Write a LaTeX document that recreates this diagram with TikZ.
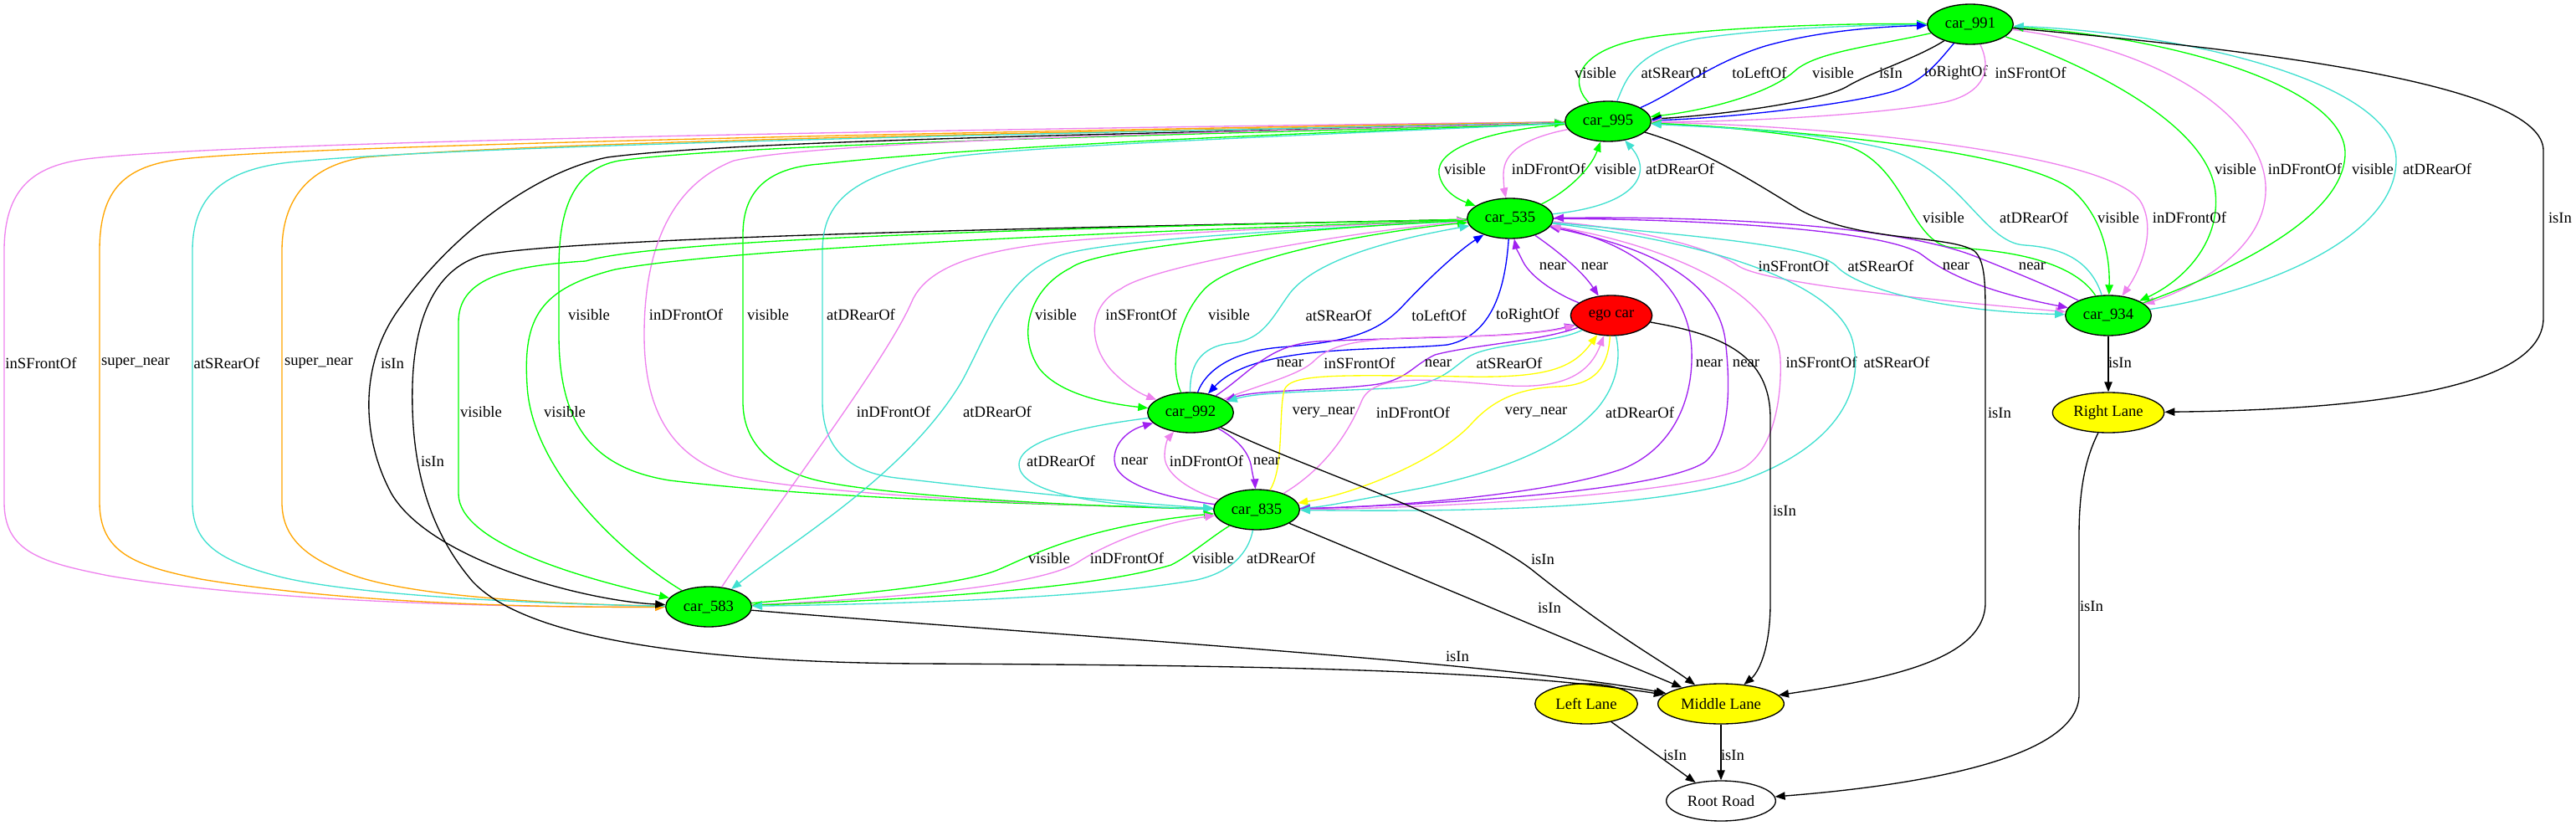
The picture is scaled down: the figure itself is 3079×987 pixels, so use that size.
\documentclass[tikz,border=0pt]{standalone}
\usepackage{fontspec}
\setmainfont{Liberation Serif}
\usepackage{tikz}
\usetikzlibrary{shapes.geometric,arrows.meta}
\definecolor{gvgreen}{HTML}{00FF00}
\definecolor{gvturq}{HTML}{40E0D0}
\definecolor{gvviolet}{HTML}{EE82EE}
\definecolor{gvpurple}{HTML}{A020F0}
\definecolor{gvorange}{HTML}{FFA500}
\definecolor{gvyellow}{HTML}{FFFF00}
\definecolor{gvblue}{HTML}{0000FF}
\definecolor{gvred}{HTML}{FF0000}
\tikzstyle{car}=[ellipse, draw=black, line width=1pt, fill=gvgreen, minimum width=77pt, minimum height=36pt, inner sep=0pt, font=\fontsize{14}{16}\selectfont]
\tikzstyle{egocar}=[car, fill=gvred, minimum width=73pt]
\tikzstyle{lane}=[car, fill=gvyellow]
\tikzstyle{road}=[car, fill=white, minimum width=98pt]
\tikzstyle{lbl}=[inner sep=0pt, text=black, font=\fontsize{14}{16}\selectfont]
\tikzstyle{link}=[draw, line width=1pt, -{Triangle[length=9pt,width=7pt]}]
\tikzstyle{visedge}=[link, draw=gvgreen]
\tikzstyle{frontedge}=[link, draw=gvviolet]
\tikzstyle{rearedge}=[link, draw=gvturq]
\tikzstyle{nearedge}=[link, draw=gvpurple]
\tikzstyle{snearedge}=[link, draw=gvorange]
\tikzstyle{vnearedge}=[link, draw=gvyellow]
\tikzstyle{leftedge}=[link, draw=gvblue]
\tikzstyle{inedge}=[link, draw=black]

\begin{document}
\begin{tikzpicture}[x=0.75pt, y=-0.75pt]
\useasboundingbox (0,0) rectangle (3079,987);

				\node[car] (c_991) at (2355,29) {car\_991};
				\node[car] (c_995) at (1922,145) {car\_995};
				\node[car] (c_535) at (1805,261) {car\_535};
				\node[egocar] (ego) at (1926,377) {ego car};
				\node[car] (c_934) at (2520,377) {car\_934};
				\node[lane, minimum width=100pt] (r_lane) at (2520,493) {Right Lane};
				\node[car] (c_992) at (1423,493) {car\_992};
				\node[car] (c_835) at (1502,609) {car\_835};
				\node[car] (c_583) at (847,725) {car\_583};
				\node[lane, minimum width=92pt] (l_lane) at (1896,841) {Left Lane};
				\node[lane, minimum width=113pt] (m_lane) at (2057,841) {Middle Lane};
				\node[road] (root) at (2057,957) {Root Road};

				% car_995 <-> car_991
				\draw[visedge] (c_995) .. controls (1876,100) and (1878,55) .. (1990,42) .. controls (2100,30) and (2230,28) .. (c_991) node[lbl] (e_1) at (1907,87) {visible};
				\draw[rearedge] (c_995) .. controls (1942,100) and (1950,62) .. (2030,46) .. controls (2120,33) and (2230,30) .. (c_991) node[lbl] (e_2) at (2001,87) {atSRearOf};
				\draw[leftedge] (c_995) .. controls (2000,112) and (2045,75) .. (2110,55) .. controls (2170,38) and (2240,32) .. (c_991) node[lbl] (e_3) at (2103,87) {toLeftOf};
				\draw[visedge] (c_991) .. controls (2240,55) and (2170,62) .. (2145,85) .. controls (2115,112) and (2040,132) .. (c_995) node[lbl] (e_4) at (2191,87) {visible};
				\draw[inedge] (c_991) .. controls (2290,70) and (2240,85) .. (2210,102) .. controls (2180,122) and (2050,138) .. (c_995) node[lbl] (e_5) at (2260,87) {isIn};
				\draw[leftedge] (c_991) .. controls (2318,72) and (2300,98) .. (2260,110) .. controls (2200,127) and (2050,142) .. (c_995) node[lbl] (e_6) at (2338,87) {toRightOf};
				\draw[frontedge] (c_991) .. controls (2380,80) and (2375,110) .. (2325,122) .. controls (2230,140) and (2050,146) .. (c_995) node[lbl] (e_7) at (2427,87) {inSFrontOf};

				% car_991 <-> car_934, right lane
				\draw[visedge] (c_991) .. controls (2500,80) and (2640,150) .. (2648,230) .. controls (2654,290) and (2610,335) .. (c_934) node[lbl] (e_8) at (2672,202) {visible};
				\draw[frontedge] (c_991) .. controls (2600,60) and (2712,150) .. (2708,230) .. controls (2705,300) and (2620,345) .. (c_934) node[lbl] (e_9) at (2755,202) {inDFrontOf};
				\draw[visedge] (c_934) .. controls (2650,330) and (2800,265) .. (2803,185) .. controls (2806,105) and (2600,45) .. (c_991) node[lbl] (e_10) at (2836,202) {visible};
				\draw[rearedge] (c_934) .. controls (2700,350) and (2866,285) .. (2864,190) .. controls (2862,100) and (2620,40) .. (c_991) node[lbl] (e_11) at (2913,202) {atDRearOf};
				\draw[inedge] (c_991) .. controls (2700,60) and (3040,100) .. (3040,180) -- (3040,380) .. controls (3040,470) and (2800,490) .. (r_lane) node[lbl] (e_12) at (3060,260) {isIn};

				% car_995 <-> car_535
				\draw[visedge] (c_995) .. controls (1780,155) and (1715,178) .. (1720,208) .. controls (1724,228) and (1742,238) .. (c_535) node[lbl] (e_13) at (1751,202) {visible};
				\draw[frontedge] (c_995) .. controls (1822,165) and (1797,182) .. (1797,208) .. controls (1797,222) and (1799,232) .. (c_535) node[lbl] (e_14) at (1851,202) {inDFrontOf};
				\draw[visedge] (c_535) .. controls (1868,232) and (1900,205) .. (c_995) node[lbl] (e_15) at (1931,202) {visible};
				\draw[rearedge] (c_535) .. controls (1960,245) and (1975,205) .. (c_995) node[lbl] (e_16) at (2008,202) {atDRearOf};

				% car_995 <-> car_934
				\draw[visedge] (c_995) .. controls (2150,155) and (2420,180) .. (2478,228) .. controls (2515,262) and (2522,310) .. (c_934) node[lbl] (e_17) at (2532,260) {visible};
				\draw[frontedge] (c_995) .. controls (2200,150) and (2520,185) .. (2558,240) .. controls (2578,272) and (2560,320) .. (c_934) node[lbl] (e_18) at (2617,260) {inDFrontOf};
				\draw[visedge] (c_934) .. controls (2482,318) and (2420,300) .. (2335,296) .. controls (2280,292) and (2280,192) .. (2200,172) .. controls (2130,157) and (2040,150) .. (c_995) node[lbl] (e_19) at (2323,260) {visible};
				\draw[rearedge] (c_934) .. controls (2500,315) and (2470,296) .. (2420,293) .. controls (2370,290) and (2345,205) .. (2255,178) .. controls (2160,155) and (2040,152) .. (c_995) node[lbl] (e_20) at (2431,260) {atDRearOf};

				% car_995 <-> car_583
				\draw[frontedge] (c_995) .. controls (1500,150) and (300,165) .. (103,190) .. controls (40,198) and (5,225) .. (5,300) -- (5,600) .. controls (5,660) and (50,672) .. (130,688) .. controls (330,722) and (650,726) .. (c_583) node[lbl] (e_21) at (49,434) {inSFrontOf};
				\draw[snearedge] (c_995) .. controls (1500,152) and (400,170) .. (218,190) .. controls (150,198) and (119,225) .. (119,300) -- (119,600) .. controls (119,660) and (160,676) .. (240,692) .. controls (420,722) and (650,726) .. (c_583) node[lbl] (e_22) at (162,434) {super\_near};
				\draw[snearedge] (c_583) .. controls (650,722) and (500,712) .. (430,690) .. controls (362,668) and (337,640) .. (337,600) -- (337,300) .. controls (337,228) and (380,196) .. (436,188) .. controls (700,165) and (1500,155) .. (c_995) node[lbl] (e_24) at (381,434) {super\_near};
				\draw[rearedge] (c_583) .. controls (650,722) and (420,712) .. (330,688) .. controls (255,668) and (230,645) .. (230,600) -- (230,300) .. controls (230,228) and (275,200) .. (356,193) .. controls (600,170) and (1500,155) .. (c_995) node[lbl] (e_23) at (271,434) {atSRearOf};
				\draw[inedge] (c_995) .. controls (1500,158) and (900,165) .. (726,188) .. controls (640,205) and (540,280) .. (480,365) .. controls (430,430) and (430,520) .. (468,590) .. controls (515,670) and (700,718) .. (c_583) node[lbl] (e_25) at (469,434) {isIn};
				\draw[inedge] (c_535) .. controls (1500,268) and (700,280) .. (577,305) .. controls (515,322) and (495,390) .. (493,460) .. controls (491,540) and (505,625) .. (565,695) .. controls (640,775) and (900,792) .. (1100,793) .. controls (1500,795) and (1800,800) .. (m_lane) node[lbl] (e_26) at (517,551) {isIn};

				% car_995 <-> car_835
				\draw[visedge] (c_995) .. controls (1500,160) and (900,170) .. (740,192) .. controls (685,202) and (668,250) .. (668,320) -- (668,400) .. controls (668,515) and (715,560) .. (800,574) .. controls (1000,598) and (1300,604) .. (c_835) node[lbl] (e_27) at (704,376) {visible};
				\draw[frontedge] (c_835) .. controls (1300,606) and (980,592) .. (877,569) .. controls (795,545) and (770,480) .. (770,400) .. controls (770,300) and (800,222) .. (877,192) .. controls (1000,165) and (1600,155) .. (c_995) node[lbl] (e_28) at (820,376) {inDFrontOf};
				\draw[visedge] (c_835) .. controls (1300,606) and (1040,592) .. (969,572) .. controls (910,555) and (888,520) .. (888,480) -- (888,280) .. controls (888,222) and (925,200) .. (980,196) .. controls (1200,172) and (1600,158) .. (c_995) node[lbl] (e_29) at (918,376) {visible};
				\draw[rearedge] (c_995) .. controls (1600,160) and (1200,175) .. (1122,190) .. controls (1020,210) and (983,240) .. (983,300) -- (983,480) .. controls (983,540) and (1020,565) .. (1071,571) .. controls (1250,592) and (1400,605) .. (c_835) node[lbl] (e_30) at (1029,376) {atDRearOf};

				% car_535 <-> car_583
				\draw[visedge] (c_535) .. controls (1400,270) and (800,282) .. (700,312) .. controls (600,318) and (548,335) .. (548,385) -- (548,590) .. controls (548,650) and (700,692) .. (c_583) node[lbl] (e_31) at (575,492) {visible};
				\draw[visedge] (c_583) .. controls (740,660) and (635,560) .. (630,460) .. controls (625,380) and (645,345) .. (735,322) .. controls (900,292) and (1500,272) .. (c_535) node[lbl] (e_32) at (675,492) {visible};
				\draw[frontedge] (c_583) .. controls (930,600) and (1060,430) .. (1090,360) .. controls (1110,315) and (1180,296) .. (1300,286) .. controls (1500,272) and (1700,266) .. (c_535) node[lbl] (e_33) at (1068,492) {inDFrontOf};
				\draw[rearedge] (c_535) .. controls (1600,272) and (1320,285) .. (1265,306) .. controls (1200,332) and (1180,400) .. (1150,455) .. controls (1085,565) and (950,645) .. (c_583) node[lbl] (e_34) at (1192,492) {atDRearOf};

				% car_535 <-> car_992
				\draw[visedge] (c_535) .. controls (1650,268) and (1320,290) .. (1280,320) .. controls (1230,345) and (1215,400) .. (1242,440) .. controls (1265,470) and (1320,482) .. (c_992) node[lbl] (e_35) at (1262,376) {visible};
				\draw[frontedge] (c_535) .. controls (1650,272) and (1380,315) .. (1340,345) .. controls (1300,365) and (1300,410) .. (1328,442) .. controls (1345,460) and (1362,470) .. (c_992) node[lbl] (e_36) at (1364,376) {inSFrontOf};
				\draw[visedge] (c_992) .. controls (1398,440) and (1405,382) .. (1440,345) .. controls (1480,305) and (1650,276) .. (c_535) node[lbl] (e_37) at (1469,376) {visible};
				\draw[rearedge] (c_992) .. controls (1422,440) and (1432,414) .. (1472,410) .. controls (1510,406) and (1520,380) .. (1542,350) .. controls (1580,302) and (1700,280) .. (c_535) node[lbl] (e_38) at (1600,377) {atSRearOf};
				\draw[leftedge] (c_992) .. controls (1440,445) and (1470,420) .. (1530,415) .. controls (1620,408) and (1650,395) .. (1680,362) .. controls (1718,322) and (1750,295) .. (c_535) node[lbl] (e_39) at (1720,377) {toLeftOf};
				\draw[leftedge] (c_535) .. controls (1800,330) and (1790,400) .. (1730,412) .. controls (1650,420) and (1500,410) .. (c_992) node[lbl] (e_40) at (1826,377) {toRightOf};

				% ego car <-> car_992
				\draw[nearedge] (c_992) .. controls (1495,445) and (1515,412) .. (1575,408) .. controls (1700,402) and (1820,404) .. (ego) node[lbl] (e_41) at (1542,434) {near};
				\draw[frontedge] (c_992) .. controls (1510,458) and (1555,448) .. (1572,430) .. controls (1598,405) and (1650,404) .. (1750,402) .. controls (1820,401) and (1860,395) .. (ego) node[lbl] (e_42) at (1625,434) {inSFrontOf};
				\draw[nearedge] (ego) .. controls (1840,408) and (1760,412) .. (1715,424) .. controls (1686,438) and (1682,455) .. (1640,460) .. controls (1580,467) and (1500,466) .. (c_992) node[lbl] (e_43) at (1719,434) {near};
				\draw[rearedge] (ego) .. controls (1860,410) and (1782,410) .. (1756,426) .. controls (1732,442) and (1722,461) .. (1660,464) .. controls (1580,468) and (1505,468) .. (c_992) node[lbl] (e_44) at (1804,434) {atSRearOf};

				% ego car <-> car_835
				\draw[vnearedge] (c_835) .. controls (1535,560) and (1528,492) .. (1535,466) .. controls (1542,446) and (1600,448) .. (1750,450) .. controls (1850,452) and (1880,440) .. (ego) node[lbl] (e_45) at (1582,493) {very\_near};
				\draw[frontedge] (c_835) .. controls (1580,562) and (1610,522) .. (1628,478) .. controls (1642,448) and (1700,452) .. (1790,460) .. controls (1860,466) and (1898,452) .. (ego) node[lbl] (e_46) at (1689,493) {inDFrontOf};
				\draw[vnearedge] (ego) .. controls (1922,438) and (1908,460) .. (1862,462) .. controls (1815,464) and (1785,478) .. (1760,505) .. controls (1720,550) and (1620,590) .. (c_835) node[lbl] (e_47) at (1836,493) {very\_near};
				\draw[rearedge] (ego) .. controls (1938,430) and (1932,460) .. (1910,487) .. controls (1870,532) and (1800,562) .. (1700,583) .. controls (1620,598) and (1580,606) .. (c_835) node[lbl] (e_48) at (1960,493) {atDRearOf};

				% car_992 <-> car_835
				\draw[rearedge] (c_992) .. controls (1330,505) and (1218,520) .. (1218,555) .. controls (1218,592) and (1330,606) .. (c_835) node[lbl] (e_49) at (1268,551) {atDRearOf};
				\draw[nearedge] (c_835) .. controls (1400,596) and (1333,580) .. (1332,550) .. controls (1331,530) and (1348,514) .. (c_992) node[lbl] (e_50) at (1356,551) {near};
				\draw[frontedge] (c_835) .. controls (1432,590) and (1392,570) .. (1392,545) .. controls (1392,532) and (1396,524) .. (c_992) node[lbl] (e_51) at (1442,551) {inDFrontOf};
				\draw[nearedge] (c_992) .. controls (1470,520) and (1493,535) .. (1496,560) .. controls (1498,572) and (1500,578) .. (c_835) node[lbl] (e_52) at (1514,551) {near};

				% car_835 <-> car_583
				\draw[visedge] (c_583) .. controls (1000,712) and (1150,700) .. (1195,680) .. controls (1232,664) and (1300,628) .. (c_835) node[lbl] (e_53) at (1254,667) {visible};
				\draw[frontedge] (c_583) .. controls (1050,716) and (1240,702) .. (1288,672) .. controls (1322,650) and (1380,626) .. (c_835) node[lbl] (e_54) at (1347,667) {inDFrontOf};
				\draw[visedge] (c_835) .. controls (1450,640) and (1422,664) .. (1400,675) .. controls (1300,706) and (1050,718) .. (c_583) node[lbl] (e_55) at (1450,667) {visible};
				\draw[rearedge] (c_835) .. controls (1494,652) and (1480,682) .. (1430,693) .. controls (1300,716) and (1050,722) .. (c_583) node[lbl] (e_56) at (1531,667) {atDRearOf};

				% car_535 <-> ego car
				\draw[nearedge] (ego) .. controls (1862,352) and (1830,332) .. (1820,312) .. controls (1815,302) and (1812,296) .. (c_535) node[lbl] (e_57) at (1856,318) {near};
				\draw[nearedge] (c_535) .. controls (1855,295) and (1890,322) .. (ego) node[lbl] (e_58) at (1906,318) {near};

				% car_535 <-> car_934
				\draw[frontedge] (c_535) .. controls (1950,272) and (2045,295) .. (2078,318) .. controls (2110,338) and (2300,358) .. (c_934) node[lbl] (e_59) at (2144,318) {inSFrontOf};
				\draw[rearedge] (c_535) .. controls (2000,280) and (2170,292) .. (2195,318) .. controls (2220,345) and (2320,372) .. (c_934) node[lbl] (e_60) at (2248,318) {atSRearOf};
				\draw[nearedge] (c_535) .. controls (2050,262) and (2260,276) .. (2298,305) .. controls (2330,330) and (2380,350) .. (c_934) node[lbl] (e_61) at (2338,318) {near};
				\draw[nearedge] (c_934) .. controls (2450,342) and (2400,322) .. (2360,306) .. controls (2280,275) and (2100,258) .. (c_535) node[lbl] (e_62) at (2429,318) {near};

				% car_535 <-> car_835
				\draw[nearedge] (c_535) .. controls (1950,288) and (2020,340) .. (2022,420) .. controls (2024,490) and (1990,540) .. (1940,560) .. controls (1850,592) and (1650,606) .. (c_835) node[lbl] (e_63) at (2043,434) {near};
				\draw[nearedge] (c_835) .. controls (1700,604) and (1985,588) .. (2038,552) .. controls (2070,525) and (2068,455) .. (2062,405) .. controls (2050,325) and (1950,292) .. (c_535) node[lbl] (e_64) at (2087,434) {near};
				\draw[frontedge] (c_835) .. controls (1700,608) and (2000,592) .. (2078,562) .. controls (2118,545) and (2130,480) .. (2128,430) .. controls (2125,352) and (2000,296) .. (c_535) node[lbl] (e_65) at (2177,433) {inSFrontOf};
				\draw[rearedge] (c_535) .. controls (2050,290) and (2200,340) .. (2215,410) .. controls (2230,480) and (2180,540) .. (2080,575) .. controls (1950,612) and (1700,611) .. (c_835) node[lbl] (e_66) at (2267,433) {atSRearOf};

				% lanes and road
				\draw[inedge] (c_995) .. controls (2040,180) and (2100,220) .. (2150,250) .. controls (2220,290) and (2330,280) .. (2360,300) .. controls (2373,312) and (2373,340) .. (2373,380) -- (2373,720) .. controls (2373,790) and (2250,812) .. (m_lane) node[lbl] (e_67) at (2390,493) {isIn};
				\draw[inedge] (ego) .. controls (2060,400) and (2116,425) .. (2116,500) -- (2116,720) .. controls (2116,780) and (2100,805) .. (m_lane) node[lbl] (e_68) at (2133,610) {isIn};
				\draw[inedge] (c_992) .. controls (1560,560) and (1750,620) .. (1830,680) .. controls (1930,760) and (1990,792) .. (m_lane) node[lbl] (e_69) at (1844,668) {isIn};
				\draw[inedge] (c_835) -- (m_lane) node[lbl] (e_70) at (1852,726) {isIn};
				\draw[inedge] (c_583) .. controls (1300,762) and (1800,792) .. (m_lane) node[lbl] (e_71) at (1742,784) {isIn};
				\draw[inedge] (c_934) -- (r_lane) node[lbl] (e_72) at (2534,433) {isIn};
				\draw[inedge] (r_lane) .. controls (2494,545) and (2485,580) .. (2485,640) -- (2485,830) .. controls (2485,905) and (2300,938) .. (root) node[lbl] (e_73) at (2500,724) {isIn};
				\draw[inedge] (l_lane) -- (root) node[lbl] (e_74) at (2002,902) {isIn};
				\draw[inedge] (m_lane) -- (root) node[lbl] (e_75) at (2071,902) {isIn};
			\end{tikzpicture}
\end{document}
